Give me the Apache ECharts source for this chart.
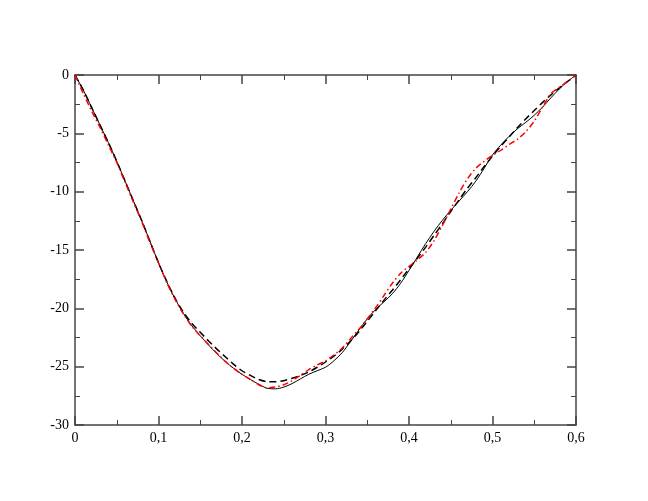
<!DOCTYPE html>
<html>
<head>
<meta charset="utf-8">
<script src="https://cdn.jsdelivr.net/npm/echarts@6/dist/echarts.min.js"></script>
<style>
  html, body { margin: 0; padding: 0; background: #fff; }
  #chart { width: 648px; height: 501px; }
</style>
</head>
<body>
<div id="chart"></div>
<script>
// x positions shared by all three curves
var xs = [0, 0.01, 0.02, 0.03, 0.04, 0.05, 0.06, 0.07, 0.08, 0.09,
          0.10, 0.11, 0.12, 0.13, 0.14, 0.15, 0.16, 0.17, 0.18, 0.19,
          0.20, 0.21, 0.22, 0.23, 0.24, 0.25, 0.26, 0.27, 0.28, 0.29,
          0.30, 0.31, 0.32, 0.33, 0.34, 0.35, 0.36, 0.37, 0.38, 0.39,
          0.40, 0.41, 0.42, 0.43, 0.44, 0.45, 0.46, 0.47, 0.48, 0.49,
          0.50, 0.51, 0.52, 0.53, 0.54, 0.55, 0.56, 0.57, 0.58, 0.59, 0.60];

// black solid curve
var solidY = [0, -1.3, -2.8, -4.3, -5.8, -7.4, -9.1, -10.8, -12.5, -14.3,
              -16.1, -17.75, -19.2, -20.45, -21.5, -22.35, -23.15, -23.9, -24.55, -25.15,
              -25.65, -26.1, -26.5, -26.85, -26.9, -26.75, -26.45, -26.05, -25.65, -25.35,
              -25.05, -24.5, -23.8, -22.85, -21.85, -20.9, -20.1, -19.45, -18.75, -17.85,
              -16.75, -15.6, -14.45, -13.4, -12.45, -11.6, -10.8, -10.0, -9.1, -8.0,
              -6.85, -6.0, -5.25, -4.6, -4.05, -3.45, -2.75, -1.95, -1.2, -0.55, 0];

// black dashed curve
var dashY = [0, -1.3, -2.8, -4.3, -5.8, -7.4, -9.1, -10.8, -12.5, -14.3,
             -16.1, -17.7, -19.15, -20.35, -21.3, -22.05, -22.8, -23.5, -24.15, -24.8,
             -25.35, -25.75, -26.1, -26.28, -26.3, -26.2, -26.0, -25.75, -25.45, -25.05,
             -24.6, -24.1, -23.5, -22.8, -22.0, -21.1, -20.2, -19.3, -18.45, -17.55,
             -16.6, -15.7, -14.75, -13.75, -12.75, -11.7, -10.7, -9.7, -8.8, -7.85,
             -6.95, -6.1, -5.3, -4.5, -3.75, -3.05, -2.35, -1.7, -1.1, -0.55, 0];

// red dash-dot curve
var redY = [0, -1.6, -3.1, -4.5, -6.0, -7.5, -9.2, -10.9, -12.6, -14.4,
            -16.1, -17.8, -19.25, -20.5, -21.55, -22.35, -23.1, -23.85, -24.55, -25.15,
            -25.65, -26.1, -26.55, -26.8, -26.75, -26.55, -26.2, -25.75, -25.25, -24.85,
            -24.5, -24.0, -23.4, -22.6, -21.8, -20.9, -19.95, -18.9, -17.85, -17.0,
            -16.4, -15.85, -15.2, -14.2, -12.9, -11.5, -10.1, -8.9, -8.0, -7.4,
            -6.9, -6.45, -5.95, -5.5, -4.85, -3.95, -2.75, -1.6, -1.05, -0.55, 0];

function pairs(ys) {
    return xs.map(function (x, i) { return [x, ys[i]]; });
}

var fontFam = '"Liberation Serif", "DejaVu Serif", serif';
var axisCol = '#444';

function tickAxis(pos, showLabel) {
    return {
        axisLine: { show: true, onZero: false, lineStyle: { color: axisCol, width: 1.5 } },
        axisTick: { show: true, inside: true, length: 9, lineStyle: { color: axisCol, width: 1.5 } },
        minorTick: { show: true, splitNumber: 2, length: 5, lineStyle: { color: axisCol, width: 1 } },
        splitLine: { show: false },
        position: pos,
        axisLabel: {
            show: showLabel,
            color: '#000',
            fontFamily: fontFam,
            fontSize: 14,
            margin: 6,
            formatter: function (v) { return String(+v.toFixed(2)).replace('.', ','); }
        }
    };
}

var xBottom = Object.assign(tickAxis('bottom', true), { type: 'value', min: 0, max: 0.6, interval: 0.1 });
var xTop = Object.assign(tickAxis('top', false), { type: 'value', min: 0, max: 0.6, interval: 0.1 });
var yLeft = Object.assign(tickAxis('left', true), { type: 'value', min: -30, max: 0, interval: 5 });
var yRight = Object.assign(tickAxis('right', false), { type: 'value', min: -30, max: 0, interval: 5 });

var chart = echarts.init(document.getElementById('chart'));
chart.setOption({
    animation: false,
    backgroundColor: '#fff',
    grid: { left: 75, top: 75, right: 72, bottom: 76, containLabel: false },
    xAxis: [xBottom, xTop],
    yAxis: [yLeft, yRight],
    series: [
        {
            type: 'line', data: pairs(solidY), smooth: 0.3, showSymbol: false,
            lineStyle: { color: '#000', width: 1, type: 'solid' }, z: 3
        },
        {
            type: 'line', data: pairs(dashY), smooth: 0.3, showSymbol: false,
            lineStyle: { color: '#000', width: 1.5, type: [7, 4] }, z: 4
        },
        {
            type: 'line', data: pairs(redY), smooth: 0.3, showSymbol: false,
            lineStyle: { color: '#ff0000', width: 1.5, type: [6, 3, 1.5, 3] }, z: 5
        }
    ]
});
</script>
</body>
</html>
